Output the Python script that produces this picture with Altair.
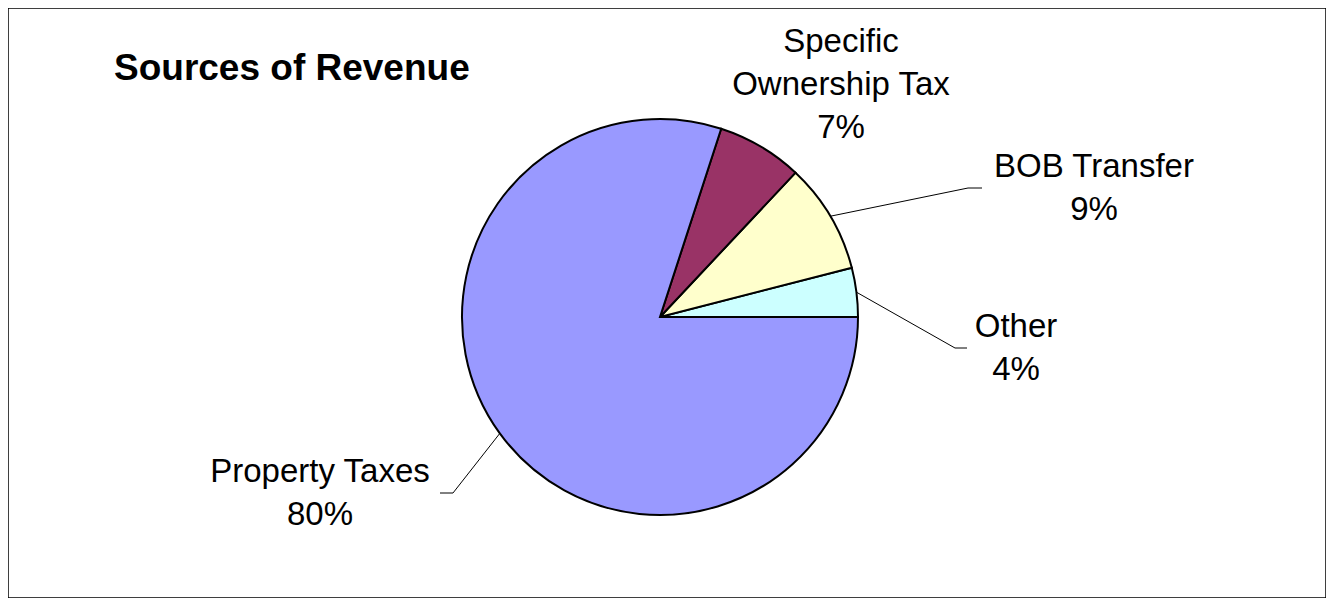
import altair as alt
import pandas as pd
import numpy as np

# ---- data ----
categories = ["Other", "BOB Transfer", "Specific Ownership Tax", "Property Taxes"]
shares = [4, 9, 7, 80]
label_lines = ["Other\n4%", "BOB Transfer\n9%", "Specific\nOwnership Tax\n7%", "Property Taxes\n80%"]
colors = ["#CCFFFF", "#FFFFCC", "#993366", "#9999FF"]
title_text = "Sources of Revenue"

# ---- layout (view pixel coordinates) ----
W, H = 1318, 590
CX, CY, R = 652, 309, 198
FONT = "Liberation Sans"
label_pos = {  # x center, first-line baseline
    "Other": (1008, 329),
    "BOB Transfer": (1086, 169),
    "Specific Ownership Tax": (833, 44),
    "Property Taxes": (312, 474),
}
leader_elbow = {  # elbow point, end point
    "Other": ((947, 340), (959, 340)),
    "BOB Transfer": ((960, 180), (974, 180)),
    "Property Taxes": ((445, 485), (432, 485)),
}

df = pd.DataFrame({"category": categories, "share": shares,
                   "order": list(range(len(categories))), "label": label_lines})
df["lx"] = [label_pos[c][0] for c in categories]
df["ly"] = [label_pos[c][1] for c in categories]

# leader lines: start at slice mid-angle on the rim
cum = np.cumsum(shares)
mid = (cum - np.array(shares) / 2) / cum[-1] * 2 * np.pi
segs = []
for c, a in zip(categories, mid):
    if c not in leader_elbow:
        continue
    ex, ey = CX + R * np.cos(a), CY - R * np.sin(a)
    (bx, by), (tx, ty) = leader_elbow[c]
    segs.append({"x": ex, "y": ey, "x2": bx, "y2": by})
    segs.append({"x": bx, "y": by, "x2": tx, "y2": ty})
seg_df = pd.DataFrame(segs)

xs = alt.Scale(domain=[0, W], range=[0, W], nice=False, zero=False)
ys = alt.Scale(domain=[0, H], range=[0, H], nice=False, zero=False)

pie = alt.Chart(df).mark_arc(stroke="black", strokeWidth=2, radius=R).encode(
    theta=alt.Theta("share:Q", stack=True,
                    scale=alt.Scale(domain=[0, 100], range=[np.pi / 2, np.pi / 2 - 2 * np.pi])),
    order=alt.Order("order:Q"),
    color=alt.Color("category:N", scale=alt.Scale(domain=categories, range=colors), legend=None),
    x=alt.value(CX),
    y=alt.value(CY),
)

leaders = alt.Chart(seg_df).mark_rule(color="black", strokeWidth=1).encode(
    x=alt.X("x:Q", scale=xs, axis=None),
    y=alt.Y("y:Q", scale=ys, axis=None),
    x2="x2:Q",
    y2="y2:Q",
)

labels = alt.Chart(df).mark_text(
    font=FONT, fontSize=33, color="black", align="center",
    baseline="alphabetic", lineBreak="\n", lineHeight=43,
).encode(
    x=alt.X("lx:Q", scale=xs, axis=None),
    y=alt.Y("ly:Q", scale=ys, axis=None),
    text="label:N",
)

title = alt.Chart(pd.DataFrame({"t": [title_text], "x": [106], "y": [72]})).mark_text(
    font=FONT, fontSize=37, fontWeight="bold", color="black", align="left", baseline="alphabetic",
).encode(
    x=alt.X("x:Q", scale=xs, axis=None),
    y=alt.Y("y:Q", scale=ys, axis=None),
    text="t:N",
)

chart = alt.layer(pie, leaders, labels, title).properties(
    width=W, height=H, padding=0, autosize=alt.AutoSizeParams(type="none"),
    background="white",
).configure_view(stroke="black", strokeWidth=1.5)

chart.save("out.html", embed_options={"renderer": "svg", "actions": False})
